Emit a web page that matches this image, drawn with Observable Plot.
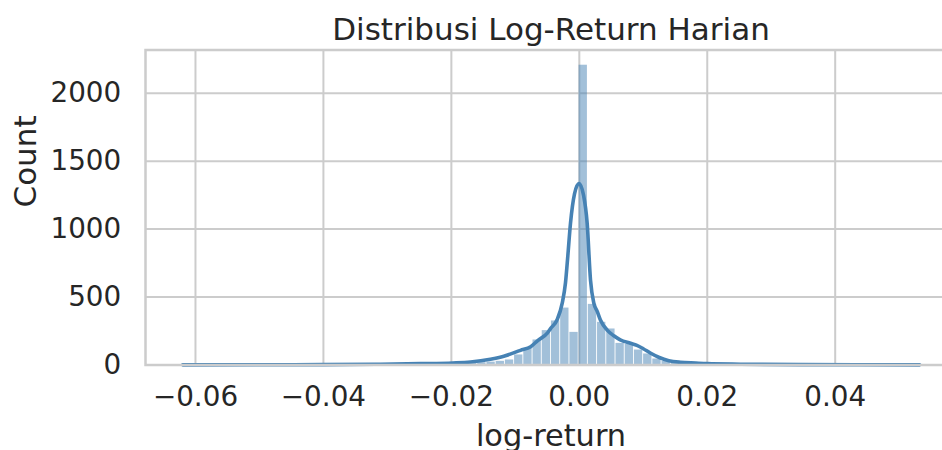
<!DOCTYPE html>
<html><head><meta charset="utf-8">
<script src="https://cdn.jsdelivr.net/npm/d3@7"></script>
<script src="https://cdn.jsdelivr.net/npm/@observablehq/plot@0.6"></script>
<style>html,body{margin:0;padding:0;background:#fff;overflow:hidden;width:942px;height:450px}</style>
</head><body><div id="chart"></div>
<script>
const title = "Distribusi Log-Return Harian";
const xLabel = "log-return";
const yLabel = "Count";
const dataMin = -0.06205;
const dataMax = 0.0532;
const binCounts = [
  1,0,0,0,0,1,0,0,0,1,
  0,1,0,1,0,1,1,0,1,1,
  2,1,3,2,4,
  5,6,7,8,10,
  12,14,17,21,27,
  37,74,122,184,253,324,419,240,2206,446,314,265,159,151,110,81,44,27,17,12,9,7,6,5,4,
  3,3,2,2,1,2,
  1,0,1,1,0,0,1,0,0,1,0,0,0,1
];
const kdeX = [-0.0620,-0.0498,-0.0400,-0.0311,-0.0248,-0.0198,-0.0170,-0.0139,-0.0118,-0.0092,-0.0076,-0.0065,-0.0050,-0.0045,-0.00345,-0.00267,-0.00216,-0.00180,-0.00138,-0.00075,-0.00005,0.00066,0.00123,0.00175,0.00227,0.0028,0.0033,0.00436,0.0054,0.0064,0.0080,0.0090,0.0100,0.0111,0.0125,0.0140,0.0158,0.0182,0.0200,0.0252,0.0346,0.0440,0.0532];
const kdeY = [1,2,3,6,10,15,22,42,64,108,135,180,235,268,335,455,605,800,1042,1260,1336,1250,1042,625,455,395,331,257,215,185,160,145,120,88,55,32,20,14,10,6,3,2,1];
const xTicks = [-0.06,-0.04,-0.02,0,0.02,0.04];
const yTicks = [0,500,1000,1500,2000];
const yMax = 2318;

const binWidth = (dataMax - dataMin) / binCounts.length;
const bins = binCounts.map((c, i) => ({x1: dataMin + i * binWidth, x2: dataMin + (i + 1) * binWidth, count: c}));
const kde = kdeX.map((x, i) => ({x, y: kdeY[i]}));
const pad = 0.05 * (dataMax - dataMin);
const ink = "#262626", grid = "#cccccc", blue = "steelblue";

const chart = Plot.plot({
  width: 942, height: 450,
  marginLeft: 145, marginRight: -14, marginTop: 49.5, marginBottom: 85.5,
  style: {fontFamily: "DejaVu Sans", fontSize: "27.8px", color: ink, background: "white", overflow: "hidden"},
  x: {domain: [dataMin - pad, dataMax + pad]},
  y: {domain: [0, yMax]},
  marks: [
    Plot.gridX(xTicks, {stroke: grid, strokeOpacity: 1, strokeWidth: 2}),
    Plot.gridY(yTicks, {stroke: grid, strokeOpacity: 1, strokeWidth: 2}),
    Plot.rectY(bins, {x1: "x1", x2: "x2", y: "count", fill: blue, fillOpacity: 0.5, insetLeft: 0.45, insetRight: 0.45}),
    Plot.line(kde, {x: "x", y: "y", stroke: blue, strokeWidth: 3.6, curve: "monotone-x"}),
    Plot.frame({stroke: grid, strokeWidth: 2.5}),
    Plot.axisX(xTicks, {tickSize: 0, tickPadding: 21.5, tickFormat: d3.format(".2f"), fill: ink, label: null}),
    Plot.axisY(yTicks, {tickSize: 0, tickPadding: 24.3, tickFormat: d3.format("d"), fill: ink, label: null}),
    Plot.text([title], {text: d => d, frameAnchor: "top", lineAnchor: "middle", dy: -20, fontSize: 31, fill: ink}),
    Plot.text([xLabel], {text: d => d, frameAnchor: "bottom", lineAnchor: "middle", dy: 71, fontSize: 30.4, fill: ink}),
    Plot.text([yLabel], {text: d => d, frameAnchor: "left", lineAnchor: "middle", dx: -119.3, rotate: -90, fontSize: 31, fill: ink})
  ]
});
document.getElementById("chart").appendChild(chart);
</script>
</body></html>
